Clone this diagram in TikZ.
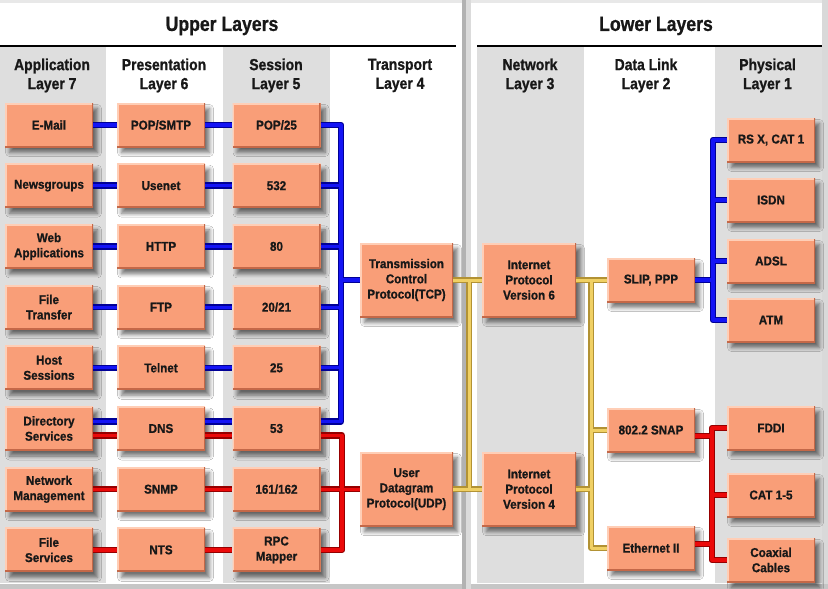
\documentclass[tikz,border=0pt]{standalone}
\usepackage{fontspec}
\setmainfont{Liberation Sans}
\newfontfamily\boxfont[FakeStretch=0.91,FakeBold=0.9]{Liberation Sans Bold}
\newfontfamily\headfont[FakeStretch=0.87,FakeBold=1.0]{Liberation Sans Bold}
\newfontfamily\titlefont[FakeStretch=0.86,FakeBold=0.8]{Liberation Sans Bold}
\usetikzlibrary{shadows.blur,calc}
\definecolor{boxfill}{RGB}{249,158,120}
\definecolor{boxlight}{RGB}{255,206,182}
\definecolor{boxdark}{RGB}{196,104,72}
\definecolor{txt}{RGB}{24,24,24}
\definecolor{band}{RGB}{222,222,222}
\definecolor{blueO}{RGB}{0,0,150}
\definecolor{blueI}{RGB}{20,20,245}
\definecolor{redO}{RGB}{150,0,0}
\definecolor{redI}{RGB}{235,10,10}
\definecolor{yelO}{RGB}{178,146,52}
\definecolor{yelI}{RGB}{240,208,100}
\newcommand\netblue[1]{%
  \foreach \i in {0,...,4}{%
    \draw[#1] (a\i.east) -- (p\i.west);
    \draw[#1] (p\i.east) -- (s\i.west);
    \draw[#1] (s\i.east) -| (bbus |- tcp.west) -- (tcp.west);
  }
  \draw[#1] ([yshift=7pt]a5.east) -- ([yshift=7pt]p5.west);
  \draw[#1] ([yshift=7pt]p5.east) -- ([yshift=7pt]s5.west);
  \draw[#1] ([yshift=7pt]s5.east) -| (bbus |- tcp.west);
  \draw[#1] (slip.east) -- (pbus |- slip.east);
  \foreach \n in {rsx,isdn,adsl,atm}{\draw[#1] (\n.west) -| (pbus |- slip.east);}
}
\newcommand\netred[1]{%
  \draw[#1] ([yshift=-7pt]a5.east) -- ([yshift=-7pt]p5.west);
  \draw[#1] ([yshift=-7pt]p5.east) -- ([yshift=-7pt]s5.west);
  \draw[#1] ([yshift=-7pt]s5.east) -| (rbus |- udp.west) -- (udp.west);
  \foreach \i in {6,7}{%
    \draw[#1] (a\i.east) -- (p\i.west);
    \draw[#1] (p\i.east) -- (s\i.west);
    \draw[#1] (s\i.east) -| (rbus |- udp.west) -- (udp.west);
  }
  \draw[#1] ([yshift=-6pt]snap.east) -| (rbus2 |- cat.west);
  \draw[#1] ([yshift=4pt]eth.east) -| (rbus2 |- cat.west);
  \foreach \n in {fddi,cat,coax}{\draw[#1] (\n.west) -| (rbus2 |- cat.west);}
}
\newcommand\netyel[1]{%
  \draw[#1] (tcp.east) -- (ip6.west);
  \draw[#1] (udp.east) -- (ip4.west);
  \draw[#1] (ybus |- udp.east) -- (ybus |- tcp.east);
  \draw[#1] (ip6.east) -- (slip.west);
  \draw[#1] (ip4.east) -- (ybus2 |- ip4.east);
  \draw[#1] (ybus2 |- ip6.east) -- (ybus2 |- eth.west) -- (eth.west);
  \draw[#1] (snap.west) -- (ybus2 |- snap.west);
}
\begin{document}
\begin{tikzpicture}[x=1pt,y=-1pt,
  layerbox/.style={rectangle, fill=boxfill, minimum width=88pt, minimum height=44pt,
    inner sep=0pt, align=center, text=txt,
    font=\boxfont\fontsize{12.8}{15.2}\selectfont,
    blur shadow={shadow xshift=4.5pt, shadow yshift=-5.5pt, shadow blur radius=4pt,
      shadow blur steps=6, shadow opacity=55},
    path picture={
      \draw[boxlight,line width=3pt] (path picture bounding box.south west) --
        (path picture bounding box.north west) -- (path picture bounding box.north east);
      \draw[boxdark,line width=3pt] (path picture bounding box.north east) --
        (path picture bounding box.south east) -- (path picture bounding box.south west);}},
  bigbox/.style={layerbox, minimum width=93pt, minimum height=74pt},
  colhead/.style={align=center, text=txt, inner sep=0pt,
    font=\headfont\fontsize{16}{19}\selectfont},
  titlehead/.style={text=txt, inner sep=0pt,
    font=\titlefont\fontsize{20.5}{24}\selectfont},
  bluedark/.style={line width=6.5pt, draw=blueO, line join=round},
  bluelite/.style={line width=3.2pt, draw=blueI, line join=round},
  reddark/.style={line width=6.5pt, draw=redO, line join=round},
  redlite/.style={line width=3.2pt, draw=redI, line join=round},
  yeldark/.style={line width=6pt, draw=yelO, line join=round},
  yellite/.style={line width=3pt, draw=yelI, line join=round}]
\useasboundingbox (0,0) rectangle (828,589);
% background
\fill[white] (0,0) rectangle (828,589);
\fill[gray!18] (0,0) rectangle (828,3);
\fill[band] (0,47) rectangle (106,583);
\fill[band] (223,47) rectangle (330,583);
\fill[band] (477,47) rectangle (584,583);
\fill[band] (715,47) rectangle (822,583);
\fill[gray!30] (822,0) rectangle (828,589);
\fill[gray!45] (0,584) rectangle (828,589);
\fill[gray!60] (462,0) rectangle (466,589);
\fill[gray!28] (466,0) rectangle (471,589);
\draw[line width=2pt, black] (0,46) -- (456,46);
\draw[line width=2pt, black] (477,46) -- (822,46);
% titles
\node[titlehead] (up) at (222,26) {Upper Layers};
\node[titlehead] (low) at (656,26) {Lower Layers};
\node[colhead] (h7) at (52,75.5) {Application\\Layer 7};
\node[colhead] (h6) at (164,75.5) {Presentation\\Layer 6};
\node[colhead] (h5) at (276,75.5) {Session\\Layer 5};
\node[colhead] (h4) at (400,75.5) {Transport\\Layer 4};
\node[colhead] (h3) at (530,75.5) {Network\\Layer 3};
\node[colhead] (h2) at (646,75.5) {Data Link\\Layer 2};
\node[colhead] (h1) at (767.5,75.5) {Physical\\Layer 1};
% upper boxes
\node[layerbox] (a0) at (49,125) {E-Mail};
\node[layerbox] (a1) at (49,185.7) {Newsgroups};
\node[layerbox] (a2) at (49,246.4) {Web\\Applications};
\node[layerbox] (a3) at (49,307.1) {File\\Transfer};
\node[layerbox] (a4) at (49,367.8) {Host\\Sessions};
\node[layerbox] (a5) at (49,428.5) {Directory\\Services};
\node[layerbox] (a6) at (49,489.2) {Network\\Management};
\node[layerbox] (a7) at (49,549.9) {File\\Services};
\node[layerbox] (p0) at (161,125) {POP/SMTP};
\node[layerbox] (p1) at (161,185.7) {Usenet};
\node[layerbox] (p2) at (161,246.4) {HTTP};
\node[layerbox] (p3) at (161,307.1) {FTP};
\node[layerbox] (p4) at (161,367.8) {Telnet};
\node[layerbox] (p5) at (161,428.5) {DNS};
\node[layerbox] (p6) at (161,489.2) {SNMP};
\node[layerbox] (p7) at (161,549.9) {NTS};
\node[layerbox] (s0) at (276.5,125) {POP/25};
\node[layerbox] (s1) at (276.5,185.7) {532};
\node[layerbox] (s2) at (276.5,246.4) {80};
\node[layerbox] (s3) at (276.5,307.1) {20/21};
\node[layerbox] (s4) at (276.5,367.8) {25};
\node[layerbox] (s5) at (276.5,428.5) {53};
\node[layerbox] (s6) at (276.5,489.2) {161/162};
\node[layerbox] (s7) at (276.5,549.9) {RPC\\Mapper};
\node[bigbox] (tcp) at (406.5,280) {Transmission\\Control\\Protocol(TCP)};
\node[bigbox] (udp) at (406.5,489.2) {User\\Datagram\\Protocol(UDP)};
% lower boxes
\node[bigbox, minimum width=94pt] (ip6) at (529,280) {Internet\\Protocol\\Version 6};
\node[bigbox, minimum width=94pt] (ip4) at (529,489.2) {Internet\\Protocol\\Version 4};
\node[layerbox] (slip) at (651,280) {SLIP, PPP};
\node[layerbox] (snap) at (651,430) {802.2 SNAP};
\node[layerbox] (eth) at (651,548) {Ethernet II};
\node[layerbox] (rsx) at (771,140) {RS X, CAT 1};
\node[layerbox] (isdn) at (771,200) {ISDN};
\node[layerbox] (adsl) at (771,261) {ADSL};
\node[layerbox] (atm) at (771,320) {ATM};
\node[layerbox] (fddi) at (771,428) {FDDI};
\node[layerbox] (cat) at (771,495) {CAT 1-5};
\node[layerbox] (coax) at (771,560) {Coaxial\\Cables};
% bus coordinates
\coordinate (bbus) at (341,0);
\coordinate (rbus) at (342,0);
\coordinate (ybus) at (469,0);
\coordinate (ybus2) at (591,0);
\coordinate (pbus) at (713,0);
\coordinate (rbus2) at (712,0);
% connectors
\netyel{yeldark}
\netyel{yellite}
\netblue{bluedark}
\netblue{bluelite}
\netred{reddark}
\netred{redlite}
\end{tikzpicture}
\end{document}
